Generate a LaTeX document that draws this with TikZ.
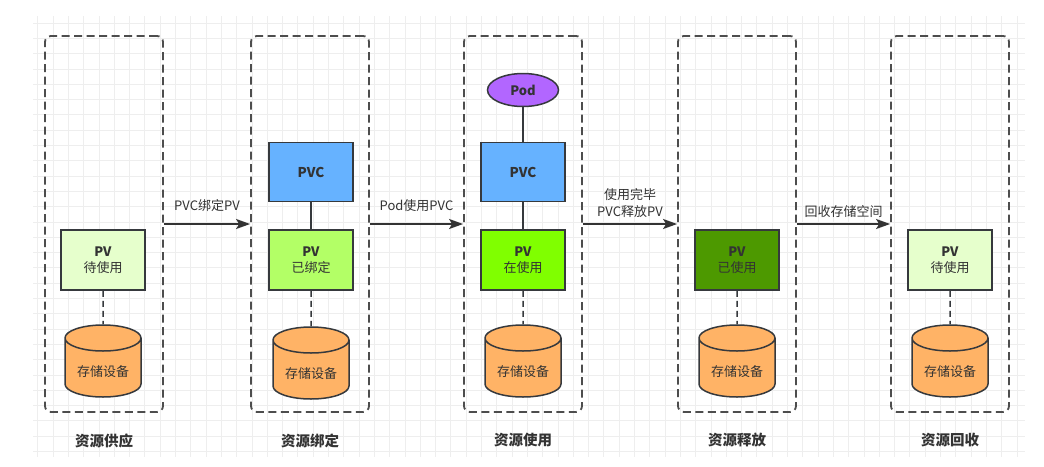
\documentclass[tikz,border=0pt]{standalone}
\usepackage{fontspec}
\setmainfont{Noto Sans CJK SC}
\usetikzlibrary{positioning,shapes.geometric,arrows.meta}

\definecolor{gridgray}{HTML}{EEEEEE}
\definecolor{framegray}{HTML}{4D4D4D}
\definecolor{edgegray}{HTML}{36393D}
\definecolor{textgray}{HTML}{333333}
\definecolor{pvfree}{HTML}{E6FFCC}
\definecolor{pvbound}{HTML}{B3FF66}
\definecolor{pvused}{HTML}{80FF00}
\definecolor{pvreleased}{HTML}{4D9900}
\definecolor{pvcblue}{HTML}{66B2FF}
\definecolor{podpurple}{HTML}{B266FF}
\definecolor{diskorange}{HTML}{FFB366}

\tikzset{
	stagebox/.style={draw=framegray, line width=1.8pt, dash pattern=on 8pt off 4.5pt,
		rounded corners=6pt, minimum width=118pt, minimum height=376pt},
	pvbox/.style={draw=edgegray, line width=1.5pt, minimum width=84pt, minimum height=60pt,
		align=center, inner sep=0pt, text=textgray, font=\fontsize{13}{16}\selectfont},
	pvcbox/.style={pvbox, fill=pvcblue, minimum height=59pt, font=\bfseries\fontsize{13.5}{16}\selectfont},
	podnode/.style={ellipse, draw=edgegray, line width=1.5pt, fill=podpurple, inner sep=0pt,
		minimum width=71pt, minimum height=33pt, text=textgray, font=\bfseries\fontsize{13}{16}\selectfont},
	disk/.style={cylinder, shape border rotate=90, aspect=0.5, draw=edgegray, line width=1.5pt,
		fill=diskorange, minimum width=76pt, minimum height=72pt, inner sep=0pt, anchor=shape center,
		text height=18pt, text=textgray, font=\fontsize{13}{16}\selectfont},
	tie/.style={draw=edgegray, line width=1.5pt},
	tiedash/.style={tie, dash pattern=on 6pt off 4pt},
	flow/.style={draw=textgray, line width=1.6pt, -{Stealth[length=14pt,width=10pt,inset=3pt]}},
	flowlabel/.style={align=center, inner sep=1pt, text=textgray, font=\fontsize{13}{17}\selectfont},
	stagetitle/.style={text=textgray, font=\bfseries\fontsize{14.5}{16}\selectfont},
}

\begin{document}
\begin{tikzpicture}[x=1pt, y=-1pt]
	\useasboundingbox [fill=white] (0,0) rectangle (1044,466);

	% сетка фона
	\begin{scope}
		\clip (33,16) rectangle (1025,457);
		\foreach \gx in {0,...,64} \draw [gridgray, line width=0.8pt] (37.7+15.3*\gx,16) -- ++(0,441);
		\foreach \gy in {0,...,28} \draw [gridgray, line width=0.8pt] (33,23+15.3*\gy) -- ++(992,0);
	\end{scope}

	% этапы
	\node [stagebox] (s1) at (104,224) {};
	\node [stagebox] (s2) at (310,224) {};
	\node [stagebox] (s3) at (523,224) {};
	\node [stagebox] (s4) at (737,224) {};
	\node [stagebox] (s5) at (950,224) {};

	\node [stagetitle, below=17pt of s1] (t1) {资源供应};
	\node [stagetitle, below=17pt of s2] (t2) {资源绑定};
	\node [stagetitle, below=17pt of s3] (t3) {资源使用};
	\node [stagetitle, below=17pt of s4] (t4) {资源释放};
	\node [stagetitle, below=17pt of s5] (t5) {资源回收};

	% этап 1
	\node [pvbox, fill=pvfree] (pv1) at (103,260) {\textbf{PV}\\待使用};
	\node [disk] (d1) at (103,361) {存储设备};
	\draw [tiedash] (pv1.south) -- (d1.north);

	% этап 2
	\node [pvcbox] (pvc2) at (311,172) {PVC};
	\node [pvbox, fill=pvbound] (pv2) at (311,260) {\textbf{PV}\\已绑定};
	\node [disk] (d2) at (311,363) {存储设备};
	\draw [tie] (pvc2.south) -- (pv2.north);
	\draw [tiedash] (pv2.south) -- (d2.north);

	% этап 3
	\node [podnode] (pod3) at (523,90) {Pod};
	\node [pvcbox] (pvc3) at (523,172) {PVC};
	\node [pvbox, fill=pvused] (pv3) at (523,260) {\textbf{PV}\\在使用};
	\node [disk] (d3) at (523,361) {存储设备};
	\draw [tie] (pod3.south) -- (pvc3.north);
	\draw [tie] (pvc3.south) -- (pv3.north);
	\draw [tiedash] (pv3.south) -- (d3.north);

	% этап 4
	\node [pvbox, fill=pvreleased] (pv4) at (737,260) {\textbf{PV}\\已使用};
	\node [disk] (d4) at (737,361) {存储设备};
	\draw [tiedash] (pv4.south) -- (d4.north);

	% этап 5
	\node [pvbox, fill=pvfree] (pv5) at (950,260) {\textbf{PV}\\待使用};
	\node [disk] (d5) at (950,361) {存储设备};
	\draw [tiedash] (pv5.south) -- (d5.north);

	% переходы
	\draw [flow] (s1.east) -- node [flowlabel, above=11pt] (l1) {PVC绑定PV} (s2.west);
	\draw [flow] (s2.east) -- node [flowlabel, above=11pt] (l2) {Pod使用PVC} (s3.west);
	\draw [flow] (s3.east) -- node [flowlabel, above=5pt] (l3) {使用完毕\\PVC释放PV} (s4.west);
	\draw [flow] (s4.east) -- node [flowlabel, above=5pt] (l4) {回收存储空间} (s5.west);
\end{tikzpicture}
\end{document}
